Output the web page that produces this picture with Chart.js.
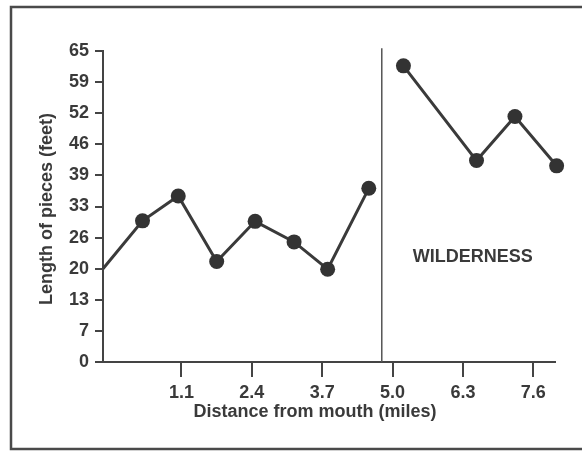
<!DOCTYPE html>
<html>
<head>
<meta charset="utf-8">
<script src="https://cdn.jsdelivr.net/npm/chart.js@4/dist/chart.umd.min.js"></script>
<style>
  body { margin: 0; background: #fff; }
  #wrap { position: relative; width: 582px; height: 452px; }
</style>
</head>
<body>
<div id="wrap"><canvas id="myChart" width="582" height="452"></canvas></div>
<script>
// distance from mouth (miles) and length of pieces (feet)
var leftMiles  = [-0.35, 0.38, 1.04, 1.75, 2.46, 3.18, 3.80, 4.56];
var leftFeet   = [19.5, 29.5, 34.7, 21.0, 29.4, 25.1, 19.4, 36.3];
var rightMiles = [5.20, 6.55, 7.26, 8.03];
var rightFeet  = [61.9, 42.1, 51.3, 41.0];
var dividerMiles = [4.80, 4.80];
var dividerFeet  = [0, 65.6];
var xTickValues = [1.1, 2.4, 3.7, 5.0, 6.3, 7.6];
var yTickStep = 6.5;

var ink = '#3a3a3a';
var fontFamily = '"Liberation Sans", Arial, Helvetica, sans-serif';

function pts(xs, ys) {
  return xs.map(function (x, i) { return { x: x, y: ys[i] }; });
}

var decor = {
  id: 'decor',
  beforeDraw: function (chart) {
    var c = chart.ctx;
    c.save();
    c.fillStyle = '#fff';
    c.fillRect(0, 0, chart.width, chart.height);
    c.strokeStyle = '#4a4a4a';
    c.lineWidth = 2.5;
    c.strokeRect(11, 7, 600, 442);
    c.restore();
  },
  afterDraw: function (chart) {
    var c = chart.ctx;
    var xs = chart.scales.x, ys = chart.scales.y;
    c.save();
    c.fillStyle = ink;
    c.font = 'bold 18px ' + fontFamily;
    c.textAlign = 'center';
    c.textBaseline = 'middle';
    c.fillText('WILDERNESS', xs.getPixelForValue(6.48), ys.getPixelForValue(21.9));
    c.fillText('Distance from mouth (miles)', 315, 412);
    c.translate(47, 209);
    c.rotate(-Math.PI / 2);
    c.fillText('Length of pieces (feet)', 0, 0);
    c.restore();
  }
};

var ctx = document.getElementById('myChart').getContext('2d');

var myChart = new Chart(ctx, {
  type: 'line',
  data: {
    datasets: [{
      data: pts(leftMiles, leftFeet),
      borderColor: ink,
      borderWidth: 3,
      backgroundColor: '#333',
      pointRadius: [0, 7.5, 7.5, 7.5, 7.5, 7.5, 7.5, 7.5],
      pointBorderWidth: 0,
      tension: 0,
      clip: false
    }, {
      data: pts(rightMiles, rightFeet),
      borderColor: ink,
      borderWidth: 3,
      backgroundColor: '#333',
      pointRadius: 7.5,
      pointBorderWidth: 0,
      tension: 0,
      clip: false
    }, {
      data: pts(dividerMiles, dividerFeet),
      borderColor: '#555',
      borderWidth: 1.5,
      pointRadius: 0,
      clip: false
    }]
  },
  options: {
    responsive: false,
    animation: false,
    layout: { padding: { left: 0, top: 51, right: 27, bottom: 0 } },
    plugins: {
      legend: { display: false },
      tooltip: { enabled: false }
    },
    scales: {
      x: {
        type: 'linear',
        min: -0.35,
        max: 8.0,
        afterBuildTicks: function (scale) {
          scale.ticks = xTickValues.map(function (v) { return { value: v }; });
        },
        afterFit: function (scale) { scale.height = 90; },
        border: { color: '#444', width: 2 },
        grid: { drawOnChartArea: false, color: '#444', lineWidth: 2, tickLength: 15 },
        ticks: {
          color: ink,
          padding: 5,
          maxRotation: 0,
          font: { family: fontFamily, size: 18, weight: 'bold' },
          callback: function (v) { return Number(v).toFixed(1); }
        }
      },
      y: {
        min: 0,
        max: 65,
        afterFit: function (scale) { scale.width = 103; },
        border: { color: '#444', width: 2 },
        grid: { drawOnChartArea: false, color: '#444', lineWidth: 2, tickLength: 8 },
        ticks: {
          stepSize: yTickStep,
          color: ink,
          padding: 6,
          font: { family: fontFamily, size: 18, weight: 'bold' },
          callback: function (v) { return Math.round(v); }
        }
      }
    }
  },
  plugins: [decor]
});
</script>
</body>
</html>
